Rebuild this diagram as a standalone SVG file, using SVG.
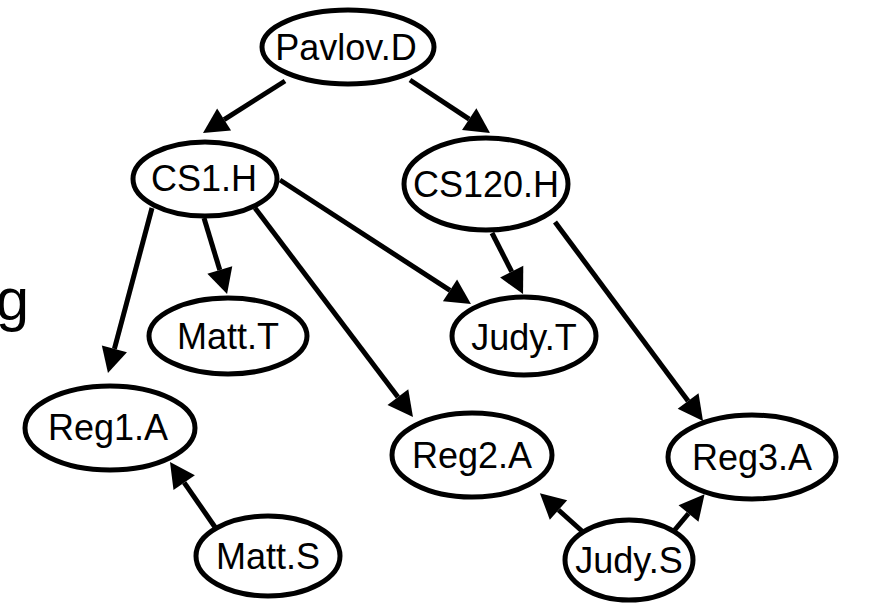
<svg xmlns="http://www.w3.org/2000/svg" width="879" height="603" viewBox="0 0 879 603">
  <style>
    .node ellipse { fill: #ffffff; stroke: #000000; stroke-width: 5; }
    .node text { font-family: "Liberation Sans", Arial, sans-serif; font-size: 36px; fill: #000000; text-anchor: middle; }
    .edges line { stroke: #000000; stroke-width: 5; marker-end: url(#head); }
  </style>
  <defs>
    <marker id="head" markerUnits="userSpaceOnUse" markerWidth="30" markerHeight="30" refX="0" refY="0" orient="auto" viewBox="0 -15 30 30" overflow="visible">
      <path d="M0,-13 L25,0 L0,13 z" fill="#000000"/>
    </marker>
  </defs>

  <!-- tail of a label cut by the left edge -->
  <text x="29" y="320" font-family="Liberation Sans, Arial, sans-serif" font-size="60" text-anchor="end">g</text>

  <g class="edges">
    <line x1="285" y1="81" x2="224.1" y2="119.6"/>
    <line x1="410" y1="80" x2="469.2" y2="119.2"/>
    <line x1="152" y1="208" x2="114.4" y2="348.8"/>
    <line x1="204" y1="218" x2="219.8" y2="270.1"/>
    <line x1="280" y1="180" x2="450" y2="290.4"/>
    <line x1="255" y1="208" x2="397.9" y2="397.1"/>
    <line x1="492" y1="233" x2="511.7" y2="271.7"/>
    <line x1="555" y1="222" x2="688.1" y2="400.9"/>
    <line x1="217" y1="530" x2="184.2" y2="482.6"/>
    <line x1="583" y1="532" x2="558.5" y2="510"/>
    <line x1="673" y1="532" x2="688.5" y2="513.5"/>
  </g>

  <g id="pavlov-d" class="node">
    <ellipse cx="348" cy="47" rx="86" ry="37"/>
    <text x="346" y="60">Pavlov.D</text>
  </g>
  <g id="cs1-h" class="node">
    <ellipse cx="205" cy="179" rx="72" ry="37"/>
    <text x="204" y="191">CS1.H</text>
  </g>
  <g id="cs120-h" class="node">
    <ellipse cx="486" cy="184" rx="82" ry="46"/>
    <text x="486" y="197">CS120.H</text>
  </g>
  <g id="matt-t" class="node">
    <ellipse cx="228" cy="336" rx="79" ry="38"/>
    <text x="228" y="349">Matt.T</text>
  </g>
  <g id="judy-t" class="node">
    <ellipse cx="524" cy="336" rx="72" ry="39"/>
    <text x="524" y="350">Judy.T</text>
  </g>
  <g id="reg1-a" class="node">
    <ellipse cx="110" cy="428" rx="85" ry="42"/>
    <text x="108" y="440">Reg1.A</text>
  </g>
  <g id="reg2-a" class="node">
    <ellipse cx="472" cy="455" rx="80" ry="42"/>
    <text x="472" y="468">Reg2.A</text>
  </g>
  <g id="reg3-a" class="node">
    <ellipse cx="752" cy="457" rx="84" ry="42"/>
    <text x="752" y="470">Reg3.A</text>
  </g>
  <g id="matt-s" class="node">
    <ellipse cx="268" cy="556" rx="72" ry="40"/>
    <text x="268" y="569">Matt.S</text>
  </g>
  <g id="judy-s" class="node">
    <ellipse cx="629" cy="560" rx="64" ry="40"/>
    <text x="629" y="573">Judy.S</text>
  </g>
</svg>
